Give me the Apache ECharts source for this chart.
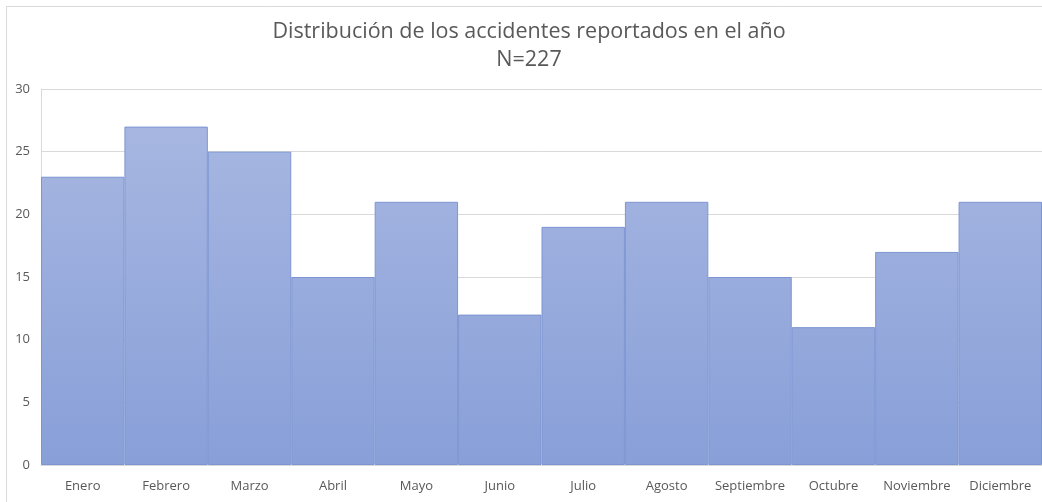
<!DOCTYPE html>
<html>
<head>
<meta charset="utf-8">
<script src="https://cdn.jsdelivr.net/npm/echarts@6/dist/echarts.min.js"></script>
<style>
html,body{margin:0;padding:0;background:#fff;}
#c{width:1042px;height:502px;}
</style>
</head>
<body>
<div id="c"></div>
<script>
const categories = ['Enero','Febrero','Marzo','Abril','Mayo','Junio','Julio','Agosto','Septiembre','Octubre','Noviembre','Diciembre'];
const accidentes = [23, 27, 25, 15, 21, 12, 19, 21, 15, 11, 17, 21];
const yTicks = { min: 0, max: 30, interval: 5 };
const titleText = 'Distribución de los accidentes reportados en el año\nN=227';

const chart = echarts.init(document.getElementById('c'), null, {renderer:'canvas'});
const font = '"Open Sans", "Liberation Sans", sans-serif';
chart.setOption({
  animation: false,
  backgroundColor: '#fff',
  title: {
    text: titleText,
    left: 524,
    top: 13,
    textAlign: 'center',
    textStyle: { fontFamily: font, fontSize: 21.5, fontWeight: 'normal', color: '#595959', lineHeight: 28 }
  },
  graphic: [{
    type: 'rect', z: -10, silent: true,
    shape: { x: 6.5, y: 6.5, width: 1200, height: 700 },
    style: { fill: null, stroke: '#d9d9d9', lineWidth: 1 }
  }],
  grid: { left: 41, right: 0, top: 89, bottom: 37, containLabel: false },
  xAxis: {
    type: 'category',
    data: categories,
    axisLine: { show: true, lineStyle: { color: '#d9d9d9' } },
    axisTick: { show: false },
    axisLabel: { color: '#595959', fontFamily: font, fontSize: 13, margin: 15, interval: 0 }
  },
  yAxis: {
    type: 'value',
    min: yTicks.min, max: yTicks.max, interval: yTicks.interval,
    axisLine: { show: true, lineStyle: { color: '#d9d9d9' } },
    axisTick: { show: false },
    splitLine: { lineStyle: { color: '#d9d9d9' } },
    axisLabel: { color: '#595959', fontFamily: font, fontSize: 13, margin: 11 }
  },
  series: [{
    type: 'bar',
    data: accidentes,
    barCategoryGap: '0%',
    itemStyle: {
      color: new echarts.graphic.LinearGradient(0, 89, 0, 465, [
        { offset: 0, color: '#aab9e2' },
        { offset: 1, color: '#889fd8' }
      ], true),
      borderColor: '#7c95d2',
      borderWidth: 1
    }
  }]
});
</script>
</body>
</html>
